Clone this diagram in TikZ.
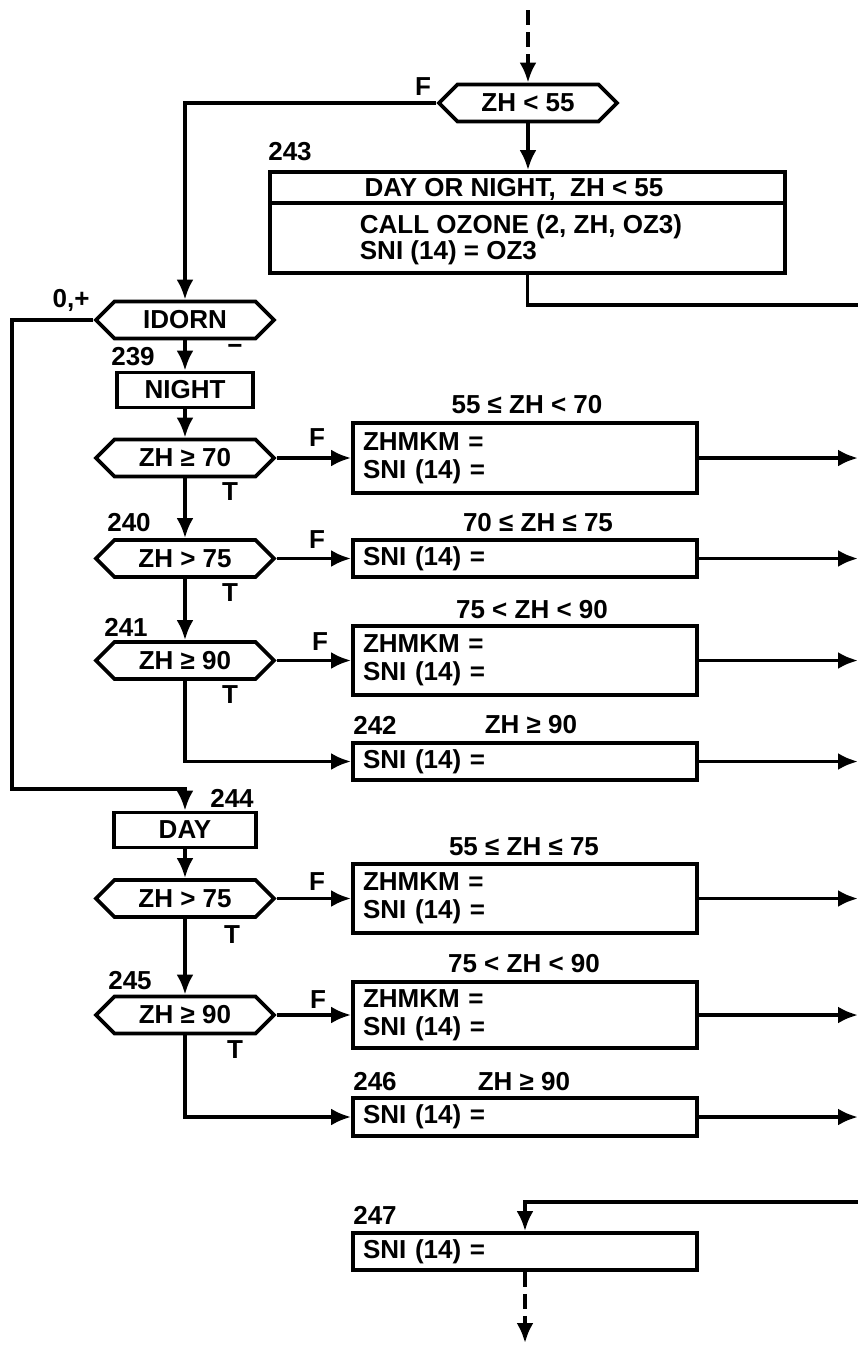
\documentclass[tikz,border=0pt]{standalone}
\usepackage{fontspec}
\setmainfont{Liberation Sans}
\usetikzlibrary{shapes,arrows.meta}

\begin{document}
\begin{tikzpicture}[x=1pt, y=-1pt, line width=3.8pt,
    every node/.style={font=\bfseries\fontsize{26}{28}\selectfont, inner sep=0pt},
    dec/.style={draw, signal, signal to=east and west, minimum width=178pt, minimum height=37pt},
    blk/.style={draw, minimum height=#1, text width=324pt, inner xsep=10pt, align=left},
    blk/.default=37pt,
    arr/.style={-{Latex[length=20pt,width=17pt]}},
    dsh/.style={dash pattern=on 15pt off 7pt}]
    \useasboundingbox (0,0) rectangle (858,1345);
    \coordinate (start) at (528,10);
    \coordinate (edge) at (858,0);
    \coordinate (rtop) at (858,305);
    \coordinate (rbot) at (858,1202);
    \coordinate (lp) at (12,789);
    \coordinate (finish) at (525,1343);

    % Day or night
    \node[dec] (zh55) at (528,103) {ZH < 55};
    \node[draw, minimum width=515pt, minimum height=101pt] (b243) at (527.5,222.5) {};
    \draw (b243.north west) ++(0,33) -- ++(515,0);
    \node at (514,189) {DAY OR NIGHT,\ \ ZH < 55};
    \node[anchor=west, align=left, font=\bfseries\fontsize{26}{26}\selectfont] at (358,240) {CALL OZONE (2, ZH, OZ3)\\SNI (14) = OZ3};
    \node at (423,87) {F};
    \node at (290,152) {243};

    % Night
    \node[dec] (idorn) at (185,320) {IDORN};
    \node[draw, minimum width=136pt, minimum height=35pt] (night) at (185,390) {NIGHT};
    \node[dec] (n70) at (185,458) {ZH ≥ 70};
    \node[dec] (n75) at (185,558.5) {ZH > 75};
    \node[dec] (n90) at (185,660.5) {ZH ≥ 90};
    \node[blk=70pt] (b70) at (525,458) {ZHMKM =\\SNI (14) =};
    \node[blk] (b75) at (525,558.5) {SNI (14) =};
    \node[blk=69pt] (b90) at (525,660.5) {ZHMKM =\\SNI (14) =};
    \node[blk] (b242) at (525,761.5) {SNI (14) =};
    \node at (71,300) {0,+};
    \node at (133,357) {239};
    \node at (235,349) {−};
    \node at (527,405) {55 ≤ ZH < 70};
    \node at (538,523) {70 ≤ ZH ≤ 75};
    \node at (532,610) {75 < ZH < 90};
    \node at (129,523) {240};
    \node at (126,627) {241};
    \node at (375,725) {242};
    \node at (531,725) {ZH ≥ 90};
    \node at (317,438) {F};
    \node at (317,540) {F};
    \node at (320,642) {F};
    \node at (230,492) {T};
    \node at (230,593) {T};
    \node at (230,695) {T};

    % Day
    \node[draw, minimum width=142pt, minimum height=35pt] (day) at (185,830) {DAY};
    \node[dec] (d75) at (185,898.5) {ZH > 75};
    \node[dec] (d90) at (185,1015) {ZH ≥ 90};
    \node[blk=69pt] (b75d) at (525,898.5) {ZHMKM =\\SNI (14) =};
    \node[blk=66pt] (b90d) at (525,1015) {ZHMKM =\\SNI (14) =};
    \node[blk=38pt] (b246) at (525,1117) {SNI (14) =};
    \node[blk] (b247) at (525,1251.5) {SNI (14) =};
    \node at (232,798) {244};
    \node at (130,981) {245};
    \node at (375,1082) {246};
    \node at (375,1215) {247};
    \node at (524,847) {55 ≤ ZH ≤ 75};
    \node at (524,964) {75 < ZH < 90};
    \node at (524,1082) {ZH ≥ 90};
    \node at (317,882) {F};
    \node at (318,1000) {F};
    \node at (232,935) {T};
    \node at (235,1050) {T};

    % Connectors
    \draw[arr, dsh] (start) -- (zh55.north);
    \draw[arr] (zh55.west) -| (idorn.north);
    \draw[arr] (zh55.south) -- (zh55.south |- b243.north);
    \draw (b243.south) |- (rtop);
    \draw[arr] (idorn.west) -| (lp) -| (day.north);
    \draw[arr] (idorn.south) -- (night.north);
    \draw[arr] (night.south) -- (n70.north);
    \draw[arr] (n70.south) -- (n75.north);
    \draw[arr] (n75.south) -- (n90.north);
    \draw[arr] (n70.east) -- (b70.west);
    \draw[arr] (n75.east) -- (b75.west);
    \draw[arr] (n90.east) -- (b90.west);
    \draw[arr] (n90.south) |- (b242.west);
    \draw[arr] (day.south) -- (d75.north);
    \draw[arr] (d75.south) -- (d90.north);
    \draw[arr] (d75.east) -- (b75d.west);
    \draw[arr] (d90.east) -- (b90d.west);
    \draw[arr] (d90.south) |- (b246.west);
    \foreach \b in {b70,b75,b90,b242,b75d,b90d,b246}
        \draw[arr] (\b.east) -- (\b.east -| edge);
    \draw[arr] (rbot) -| (b247.north);
    \draw[arr, dsh] (b247.south) -- (finish);
\end{tikzpicture}
\end{document}
